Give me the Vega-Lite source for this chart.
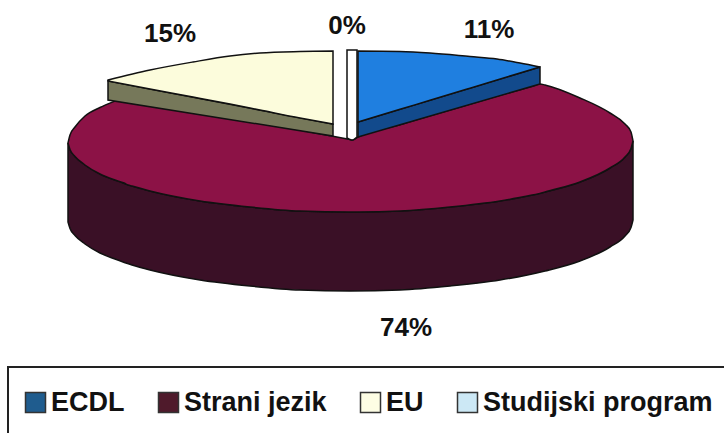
{
"$schema":"https://vega.github.io/schema/vega-lite/v6.json",
"width":724,"height":433,"autosize":{"type":"none"},"padding":0,"background":"#ffffff",
"view":{"stroke":null},
"config":{"font":"Liberation Sans"},
"datasets":{
"shares":[
{"slice":"ECDL","share":0.11,"lx":489,"ly":30},
{"slice":"Strani jezik","share":0.74,"lx":406,"ly":328},
{"slice":"EU","share":0.15,"lx":170,"ly":34},
{"slice":"Studijski program","share":0,"lx":347,"ly":26}
],
"frame":[{"x":8,"x2":760,"y":367,"y2":470}],
"outline":[
{"part":"Strani wall","x":68,"y":143,"y2":222},{"part":"Strani wall","x":70,"y":149.5,"y2":228.5},{"part":"Strani wall","x":75,"y":156.5,"y2":235.5},{"part":"Strani wall","x":85,"y":165,"y2":244},{"part":"Strani wall","x":100,"y":174,"y2":253},{"part":"Strani wall","x":115,"y":180,"y2":259},{"part":"Strani wall","x":132,"y":186,"y2":265},{"part":"Strani wall","x":150,"y":191,"y2":270},{"part":"Strani wall","x":200,"y":201,"y2":280},{"part":"Strani wall","x":250,"y":207,"y2":286},{"part":"Strani wall","x":300,"y":211,"y2":290},{"part":"Strani wall","x":350,"y":212,"y2":291},{"part":"Strani wall","x":400,"y":211,"y2":290},{"part":"Strani wall","x":450,"y":207,"y2":286},{"part":"Strani wall","x":500,"y":201,"y2":280},{"part":"Strani wall","x":545,"y":192,"y2":271},{"part":"Strani wall","x":580,"y":182,"y2":261},{"part":"Strani wall","x":610,"y":168,"y2":247},{"part":"Strani wall","x":625,"y":157,"y2":236},{"part":"Strani wall","x":631,"y":148.5,"y2":227.5},{"part":"Strani wall","x":633,"y":141,"y2":220},
{"part":"Strani top","x":68,"y":143,"y2":143},{"part":"Strani top","x":70,"y":135,"y2":149.5},{"part":"Strani top","x":75,"y":127,"y2":156.5},{"part":"Strani top","x":85,"y":116,"y2":165},{"part":"Strani top","x":100,"y":107.5,"y2":174},{"part":"Strani top","x":115,"y":101,"y2":180},{"part":"Strani top","x":124,"y":97.5,"y2":183},{"part":"Strani top","x":128,"y":97,"y2":185},{"part":"Strani top","x":132,"y":98,"y2":186},{"part":"Strani top","x":150,"y":101,"y2":191},{"part":"Strani top","x":200,"y":111,"y2":201},{"part":"Strani top","x":250,"y":120.5,"y2":207},{"part":"Strani top","x":300,"y":130,"y2":211},{"part":"Strani top","x":350,"y":139.6,"y2":212},{"part":"Strani top","x":352,"y":140,"y2":212},{"part":"Strani top","x":358,"y":137,"y2":212},{"part":"Strani top","x":400,"y":124.8,"y2":211},{"part":"Strani top","x":450,"y":110,"y2":207},{"part":"Strani top","x":500,"y":95.4,"y2":201},{"part":"Strani top","x":535,"y":85.5,"y2":194.5},{"part":"Strani top","x":540,"y":84,"y2":193.5},{"part":"Strani top","x":545,"y":85,"y2":192},{"part":"Strani top","x":580,"y":98,"y2":182},{"part":"Strani top","x":610,"y":113,"y2":168},{"part":"Strani top","x":625,"y":124,"y2":157},{"part":"Strani top","x":631,"y":132,"y2":148.5},{"part":"Strani top","x":633,"y":141,"y2":141},
{"part":"EU wall","x":108,"y":81,"y2":100},{"part":"EU wall","x":333,"y":124,"y2":136},
{"part":"EU top","x":108,"y":80,"y2":81},{"part":"EU top","x":150,"y":70,"y2":89},{"part":"EU top","x":193,"y":62,"y2":97},{"part":"EU top","x":230,"y":56,"y2":104},{"part":"EU top","x":260,"y":53,"y2":110},{"part":"EU top","x":300,"y":51.5,"y2":118},{"part":"EU top","x":333,"y":51,"y2":124},
{"part":"ECDL wall","x":358,"y":122,"y2":137},{"part":"ECDL wall","x":540,"y":67,"y2":84},
{"part":"ECDL top","x":358,"y":51,"y2":122},{"part":"ECDL top","x":400,"y":51.5,"y2":109.3},{"part":"ECDL top","x":430,"y":53,"y2":100.3},{"part":"ECDL top","x":470,"y":56.5,"y2":88.2},{"part":"ECDL top","x":497,"y":59,"y2":80},{"part":"ECDL top","x":520,"y":63,"y2":73},{"part":"ECDL top","x":540,"y":67,"y2":67},
{"part":"Studijski top","x":347,"y":50,"y2":138},{"part":"Studijski top","x":352,"y":50,"y2":140},{"part":"Studijski top","x":357,"y":50,"y2":137}
]},
"layer":[
{"data":{"name":"frame"},
 "mark":{"type":"rect","fill":"#ffffff","stroke":"#222222","strokeWidth":2,"clip":true},
 "encoding":{"x":{"field":"x","type":"quantitative","scale":{"domain":[0,724]},"axis":null},"x2":{"field":"x2"},"y":{"field":"y","type":"quantitative","scale":{"domain":[433,0]},"axis":null},"y2":{"field":"y2"}}},
{"data":{"name":"outline"},
 "mark":{"type":"area","interpolate":"monotone","stroke":"#111111","strokeWidth":1.5,"opacity":1},
 "encoding":{
  "x":{"field":"x","type":"quantitative","sort":null,"scale":{"domain":[0,724]},"axis":null},
  "y":{"field":"y","type":"quantitative","stack":null,"scale":{"domain":[433,0]},"axis":null},
  "y2":{"field":"y2"},
  "color":{"field":"part","type":"nominal","legend":null,"scale":{
   "domain":["Strani wall","Strani top","EU wall","EU top","ECDL wall","ECDL top","Studijski top"],
   "range":["#3a1026","#8c1246","#76785a","#fcfcdc","#124a8c","#1f7fe0","#ffffff"]}}}},
{"data":{"name":"shares"},
 "mark":{"type":"point","filled":true,"opacity":0,"shape":"square"},
 "encoding":{
  "x":{"field":"lx","type":"quantitative","scale":{"domain":[0,724]},"axis":null},
  "y":{"field":"ly","type":"quantitative","scale":{"domain":[433,0]},"axis":null},
  "fill":{"field":"slice","type":"nominal","title":null,"scale":{
    "domain":["ECDL","Strani jezik","EU","Studijski program"],
    "range":["#1f5c8e","#4f1a2b","#fdfde4","#cce8f5"]},
   "legend":{"orient":"none","legendX":22,"legendY":389,"direction":"horizontal","columns":4,"gridAlign":"none","columnPadding":30,
    "symbolType":"square","symbolSize":400,"symbolOpacity":1,"symbolStrokeColor":"#333333","symbolStrokeWidth":1.5,
    "labelFont":"Liberation Sans","labelFontSize":27,"labelFontWeight":"bold","labelColor":"#111111","labelOffset":2,"labelLimit":400}}}},
{"data":{"name":"shares"},
 "mark":{"type":"text","font":"Liberation Sans","fontSize":26,"fontWeight":"bold","color":"#111111","align":"center","baseline":"middle"},
 "encoding":{
  "x":{"field":"lx","type":"quantitative","scale":{"domain":[0,724]},"axis":null},
  "y":{"field":"ly","type":"quantitative","scale":{"domain":[433,0]},"axis":null},
  "text":{"field":"share","type":"quantitative","format":".0%"}}}
],
"resolve":{"scale":{"color":"independent","fill":"independent"}}
}
